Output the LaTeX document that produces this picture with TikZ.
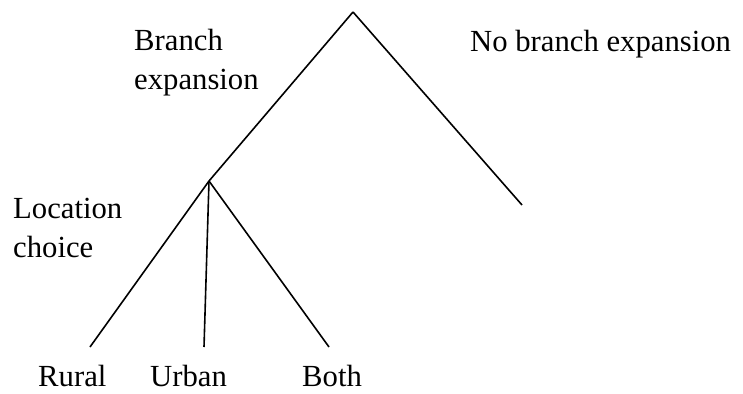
\documentclass[tikz,border=0pt]{standalone}
\usepackage{fontspec}
\setmainfont{Liberation Serif}
\begin{document}
\begin{tikzpicture}[x=1pt,y=-1pt,
  lbl/.style={inner sep=0pt,anchor=base west,align=left,
    font=\fontsize{30.7}{39}\selectfont},
  edge/.style={line width=1.6pt}]
\useasboundingbox (0,0) rectangle (743,393);
\coordinate (root) at (353,12);
\coordinate (loc) at (209,181);
\coordinate (nobr) at (522,205);
\coordinate (rural) at (90,347);
\coordinate (urban) at (204,347);
\coordinate (both) at (329,347);
\draw[edge] (root) -- (loc);
\draw[edge] (root) -- (nobr);
\draw[edge] (loc) -- (rural);
\draw[edge] (loc) -- (urban);
\draw[edge] (loc) -- (both);
\node[lbl] (tbr) at (134,89) {Branch\\expansion};
\node[lbl] (tnb) at (470,52) {No branch expansion};
\node[lbl] (tlc) at (13,257) {Location\\choice};
\node[lbl] (trur) at (38,386) {Rural};
\node[lbl] (turb) at (150,386) {Urban};
\node[lbl] (tboth) at (302,386) {Both};
\end{tikzpicture}
\end{document}
